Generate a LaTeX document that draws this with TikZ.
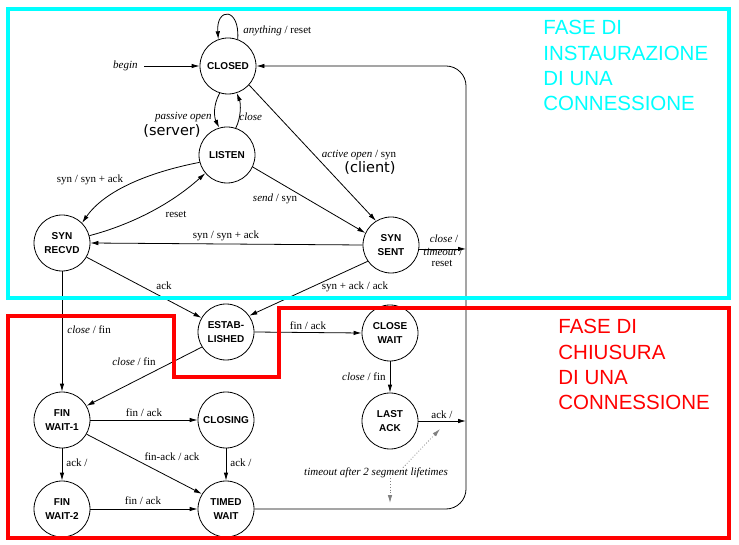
\documentclass[tikz,border=0pt]{standalone}
\usepackage{fontspec}
\setmainfont{Liberation Serif}
\newfontfamily\statefont{Liberation Sans}
\newfontfamily\annotfont{DejaVu Sans}
\newfontfamily\phasefont{Liberation Sans}
\usetikzlibrary{arrows.meta,calc}
\definecolor{phasecyan}{RGB}{0,255,255}
\definecolor{phasered}{RGB}{255,0,0}
\begin{document}
\begin{tikzpicture}[x=1pt,y=-1pt,line width=0.8pt,
  state/.style={circle,draw,minimum size=56pt,inner sep=0pt,align=center,
    font=\statefont\bfseries\fontsize{10}{14.5}\selectfont},
  lbl/.style={inner sep=0pt,font=\fontsize{11}{12}\selectfont},
  annot/.style={inner sep=0pt,font=\annotfont\fontsize{14.5}{16}\selectfont},
  arr/.style={-{Latex[length=8pt,width=4.5pt]}},
  dotarr/.style={-{Latex[length=8pt,width=4.5pt]},dotted,gray},
  phase/.style={inner sep=0pt,align=left,font=\phasefont\fontsize{20.5}{25.3}\selectfont},
  phasebox/.style={line width=4pt}]
\useasboundingbox (0,0) rectangle (739,545);
\fill[white] (0,0) rectangle (739,545);

% states
\node[state] (closed) at (228,66) {CLOSED};
\node[state] (listen) at (227,155) {LISTEN};
\node[state] (synrcvd) at (62,243) {SYN\\RECVD};
\node[state] (synsent) at (391,245) {SYN\\SENT};
\node[state] (estab) at (226,332) {ESTAB-\\LISHED};
\node[state] (closewait) at (390,333) {CLOSE\\WAIT};
\node[state] (lastack) at (390,421) {LAST\\ACK};
\node[state] (fw1) at (62,420) {FIN\\WAIT-1};
\node[state] (closing) at (226,420) {CLOSING};
\node[state] (fw2) at (62,509) {FIN\\WAIT-2};
\node[state] (timedwait) at (226,509) {TIMED\\WAIT};

\coordinate (rx) at (466,0);
\node[lbl,anchor=east] (begin) at (138,66) {\textit{begin}};

% connectors
\draw[arr] (closed.70) .. controls (240,7) and (216,7) .. (closed.110);
\draw[arr,shorten <=6pt] (begin.east) -- (closed.west);
\draw[arr] (closed.253) .. controls (213,105) and (214,117) .. (listen.106);
\draw[arr] (listen.72) .. controls (241,118) and (241,104) .. (closed.288);
\draw[arr] (listen.195) .. controls (150,172) and (105,190) .. (synrcvd.45);
\draw[arr] (synrcvd.15) .. controls (130,225) and (170,205) .. (listen.220);
\draw[arr] (listen.-25) -- (synsent.155);
\draw[arr] (closed.-42) -- (synsent.122);
\draw[arr] (synsent.west) -- (synrcvd.east);
\draw[arr] (synrcvd.-30) -- (estab.150);
\draw[arr] (synsent.215) -- (estab.35);
\draw[arr] (synrcvd.south) -- (fw1.north);
\draw[arr] (estab.212) -- (fw1.30);
\draw[arr] (estab.east) -- (closewait.west);
\draw[arr] (closewait.south) -- (lastack.north);
\draw[arr] (fw1.east) -- (closing.west);
\draw[arr] (fw1.-30) -- (timedwait.148);
\draw[arr] (fw1.south) -- (fw2.north);
\draw[arr] (closing.south) -- (timedwait.north);
\draw[arr] (fw2.east) -- (timedwait.west);
\draw[arr,rounded corners=20pt] (timedwait.east) -- (timedwait.east -| rx) -- (closed.east -| rx) -- (closed.east);
\draw[arr] (synsent.-8) -- (synsent.-8 -| rx);
\draw[arr] (lastack.east) -- (lastack.east -| rx);

\node[lbl] (timeout) at (376,473) {\textit{timeout after 2 segment lifetimes}};
\coordinate (dotA) at (440,429);
\coordinate (dotB) at (390,503);
\draw[dotarr] ($(timeout.north)+(27,0)$) -- (dotA);
\draw[dotarr] ($(timeout.south)+(14,0)$) -- (dotB);

% labels
\node[lbl,anchor=west] (lany) at (243,31) {\textit{anything} / reset};
\node[lbl,anchor=east] (lpassive) at (212,117) {\textit{passive open}};
\node[annot] (server) at (172,131) {(server)};
\node[lbl,anchor=west] (lclose1) at (239,117) {\textit{close}};
\node[lbl] (lsynack1) at (90,180) {syn / syn + ack};
\node[lbl] (lreset) at (176,214) {reset};
\node[lbl] (lsend) at (275,199) {\textit{send} / syn};
\node[lbl] (lactive) at (359,155) {\textit{active open} / syn};
\node[annot] (client) at (370,168) {(client)};
\node[lbl] (lsynack2) at (226,236) {syn / syn + ack};
\node[lbl] (lack1) at (164,286) {ack};
\node[lbl] (lsynack3) at (355,287) {syn + ack / ack};
\node[lbl,anchor=west] (lclosefin1) at (67,330) {\textit{close} / fin};
\node[lbl] (lclosefin2) at (134,362) {\textit{close} / fin};
\node[lbl] (lfinack1) at (308,326) {fin / ack};
\node[lbl,anchor=east] (lclosefin3) at (386,377) {\textit{close} / fin};
\node[lbl] (lack2) at (442,415) {ack /};
\node[lbl] (lfinack2) at (144,413) {fin / ack};
\node[lbl] (lfinack3) at (172,457) {fin-ack / ack};
\node[lbl,anchor=west] (lack3) at (66,463) {ack /};
\node[lbl,anchor=west] (lack4) at (230,463) {ack /};
\node[lbl] (lfinack4) at (143,501) {fin / ack};
\node[lbl] (lclose2) at (444,239) {\textit{close} /};
\node[lbl] (ltimeout) at (443,252) {\textit{timeout} /};
\node[lbl] (lreset2) at (442,263) {reset};

% phase boxes
\draw[phasebox,phasecyan] (8,9) rectangle (729,298);
\draw[phasebox,phasered] (8,316) -- (174,316) -- (174,377) -- (279,377) -- (279,308) -- (729,308) -- (729,538) -- (8,538) -- cycle;
\node[phase,text=phasecyan,anchor=north west] (phase1) at (543,20) {FASE DI\\INSTAURAZIONE\\DI UNA\\CONNESSIONE};
\node[phase,text=phasered,anchor=north west] (phase2) at (558,319) {FASE DI\\CHIUSURA\\DI UNA\\CONNESSIONE};
\end{tikzpicture}
\end{document}
